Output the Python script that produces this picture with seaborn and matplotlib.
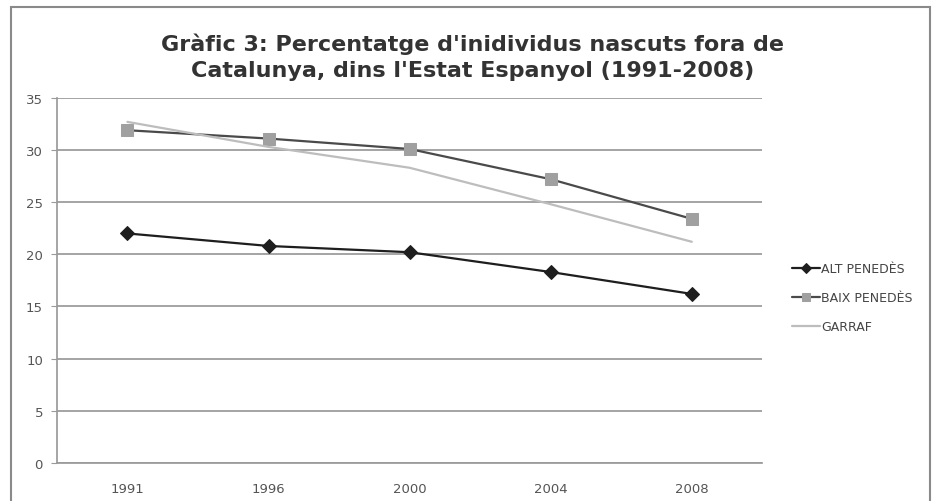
import matplotlib
matplotlib.use("Agg")
import matplotlib.pyplot as plt
import seaborn as sns
import pandas as pd
from matplotlib.patches import Rectangle

years = ["1991", "1996", "2000", "2004", "2008"]
alt_penedes = [22.0, 20.8, 20.2, 18.3, 16.2]
baix_penedes = [31.9, 31.1, 30.1, 27.2, 23.4]
garraf = [32.7, 30.3, 28.3, 24.8, 21.2]
series_names = ["ALT PENEDÈS", "BAIX PENEDÈS", "GARRAF"]
title = "Gràfic 3: Percentatge d'inidividus nascuts fora de\nCatalunya, dins l'Estat Espanyol (1991-2008)"
yticks = [0, 5, 10, 15, 20, 25, 30, 35]

sns.set_theme(style="white")
plt.rcParams["font.family"] = ["DejaVu Sans"]

fig = plt.figure(figsize=(9.32, 5.02), dpi=100)
ax = fig.add_axes([0.061, 0.076, 0.757, 0.727])

styles = [
    dict(color="#1e1e1e", marker="D", markersize=7, markerfacecolor="#1e1e1e",
         markeredgecolor="#1e1e1e", linewidth=1.6),
    dict(color="#4a4a4a", marker="s", markersize=8, markerfacecolor="#a0a0a0",
         markeredgecolor="#a0a0a0", linewidth=1.6),
    dict(color="#bdbdbd", marker=None, linewidth=1.6),
]
for name, vals, st in zip(series_names, [alt_penedes, baix_penedes, garraf], styles):
    df = pd.DataFrame({"year": years, "value": vals})
    sns.lineplot(data=df, x="year", y="value", ax=ax, label=name, **st)

ax.set_xlim(-0.5, len(years) - 0.5)
ax.set_ylim(0, 35)
ax.set_yticks(yticks)
ax.set_yticklabels([str(v) for v in yticks])
ax.set_xlabel("")
ax.set_ylabel("")
ax.yaxis.grid(True, color="#8c8c8c", linewidth=1.1)
ax.xaxis.grid(False)
for side in ["top", "right"]:
    ax.spines[side].set_visible(False)
ax.spines["left"].set_color("#9a9a9a")
ax.spines["bottom"].set_color("#9a9a9a")
ax.tick_params(axis="x", labelsize=9.5, labelcolor="#555555", bottom=False, pad=8)
ax.tick_params(axis="y", labelsize=9.5, labelcolor="#555555", colors="#9a9a9a",
               left=True, length=4, width=0.8, pad=6)
for lbl in ax.get_yticklabels() + ax.get_xticklabels():
    lbl.set_color("#555555")

fig.text(0.5075, 0.886, title, ha="center", va="center", fontsize=16,
         fontweight="bold", color="#333333", linespacing=1.4)

leg = ax.legend(loc="center left", bbox_to_anchor=(0.838, 0.405),
                bbox_transform=fig.transFigure, frameon=False, fontsize=9,
                handlelength=2.2, handletextpad=0.1, labelspacing=1.3,
                markerscale=0.75)
for t in leg.get_texts():
    t.set_color("#444444")

fig.patches.append(Rectangle((0.012, -0.01), 0.986, 0.994, transform=fig.transFigure,
                             fill=False, edgecolor="#8a8a8a", linewidth=1.5))

fig.savefig("out.png", dpi=100)
